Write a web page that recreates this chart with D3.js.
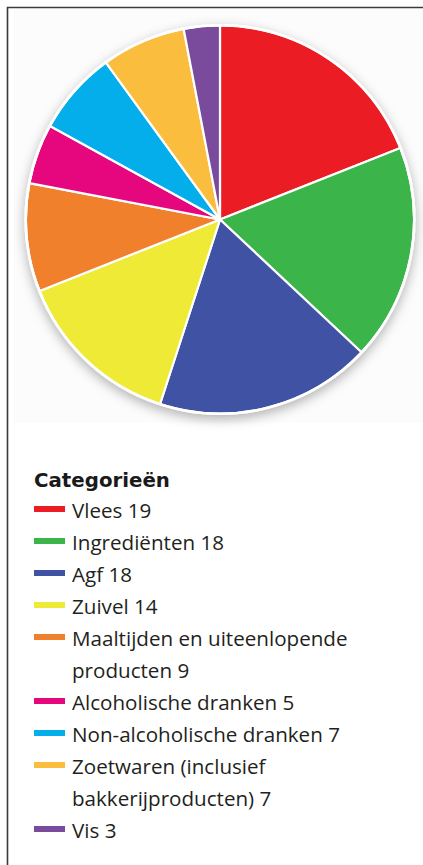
<!DOCTYPE html>
<html>
<head>
<meta charset="utf-8">
<script src="https://cdn.jsdelivr.net/npm/d3@7"></script>
<style>
  html, body { margin: 0; padding: 0; background: #fff; }
  svg { display: block; }
</style>
</head>
<body>
<svg id="chart"></svg>
<script>
// ── Data ──────────────────────────────────────────────────────────────────
const categories = [
    "Vlees", "Ingrediënten", "Agf", "Zuivel",
    "Maaltijden en uiteenlopende producten", "Alcoholische dranken",
    "Non-alcoholische dranken", "Zoetwaren (inclusief bakkerijproducten)", "Vis"
];
const values = [19, 18, 18, 14, 9, 5, 7, 7, 3];
const colors = [
    "#ec1c24", "#3bb44a", "#3f52a3", "#eeea35",
    "#f1802c", "#e6077f", "#03aeea", "#fbbd3d", "#7a4b9d"
];
const legendTitle = "Categorieën";

const W = 423, H = 865;
const cx = 220, cy = 219.5, r = 194;

const svg = d3.select("#chart")
    .attr("width", W)
    .attr("height", H);

// ── Shadow filter ─────────────────────────────────────────────────────────
const defs = svg.append("defs");
const f = defs.append("filter")
    .attr("id", "shadow")
    .attr("x", "-20%").attr("y", "-20%")
    .attr("width", "140%").attr("height", "140%");
f.append("feDropShadow")
    .attr("dx", 0).attr("dy", 4)
    .attr("stdDeviation", 6)
    .attr("flood-color", "#000")
    .attr("flood-opacity", 0.3);

// faint backdrop behind the pie
svg.append("rect")
    .attr("x", 14).attr("y", 9)
    .attr("width", W - 14).attr("height", 414)
    .attr("fill", "#fcfcfc");

// ── Frame (top + left) ────────────────────────────────────────────────────
svg.append("path")
    .attr("d", `M7.5,${H} V7.5 H${W}`)
    .attr("fill", "none")
    .attr("stroke", "#3a3a3a")
    .attr("stroke-width", 1.6);

// ── Pie ───────────────────────────────────────────────────────────────────
const data = categories.map((c, i) => ({ name: c, value: values[i], color: colors[i] }));

const pie = d3.pie()
    .value(d => d.value)
    .sort(null);

const arc = d3.arc()
    .innerRadius(0)
    .outerRadius(r);

const g = svg.append("g")
    .attr("transform", `translate(${cx},${cy})`);

// white disc carrying the shadow
g.append("circle")
    .attr("r", r + 1.5)
    .attr("fill", "#fff")
    .attr("filter", "url(#shadow)");

g.selectAll("path.slice")
    .data(pie(data))
    .join("path")
    .attr("class", "slice")
    .attr("d", arc)
    .attr("fill", d => d.data.color)
    .attr("stroke", "#fff")
    .attr("stroke-width", 2.2)
    .attr("stroke-linejoin", "round");

g.append("circle")
    .attr("r", r)
    .attr("fill", "none")
    .attr("stroke", "#fff")
    .attr("stroke-width", 2);

// ── Legend ────────────────────────────────────────────────────────────────
const font = "'Open Sans', 'Noto Sans', sans-serif";
const fs = 20.6;
const lx = 34, tx = 72, maxW = W - tx - 6;
const rowH = 32;

svg.append("text")
    .attr("x", lx).attr("y", 487)
    .attr("font-family", "'DejaVu Sans', sans-serif")
    .attr("font-weight", 700)
    .attr("font-size", 19.8)
    .attr("fill", "#1a1a1a")
    .text(legendTitle);

const leg = svg.append("g");
let line = 0;
data.forEach(d => {
    const baseY = 518 + line * rowH;
    leg.append("rect")
        .attr("x", lx).attr("y", baseY - 12)
        .attr("width", 31).attr("height", 6)
        .attr("fill", d.color);

    // greedy word wrap
    const words = (d.name + " " + d.value).split(" ");
    let cur = [];
    let t = leg.append("text")
        .attr("x", tx).attr("y", baseY)
        .attr("font-family", font)
        .attr("font-size", fs)
        .attr("fill", "#231f20");
    words.forEach(w => {
        cur.push(w);
        t.text(cur.join(" "));
        if (t.node().getComputedTextLength() > maxW && cur.length > 1) {
            cur.pop();
            t.text(cur.join(" "));
            line++;
            cur = [w];
            t = leg.append("text")
                .attr("x", tx).attr("y", 518 + line * rowH)
                .attr("font-family", font)
                .attr("font-size", fs)
                .attr("fill", "#231f20")
                .text(w);
        }
    });
    line++;
});
</script>
</body>
</html>
